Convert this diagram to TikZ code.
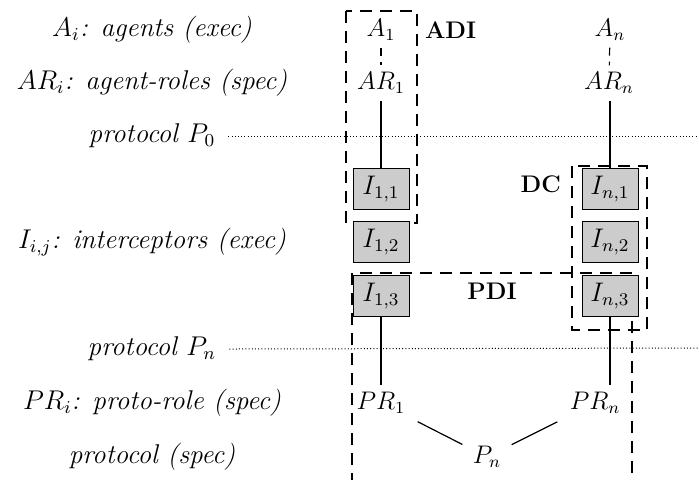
\documentclass[tikz,border=0pt]{standalone}
\usepackage{graphicx}
\newcommand{\lbl}[1]{\scalebox{1.13}{\large\itshape #1}}
\newcommand{\bx}[1]{\scalebox{1.12}{\large #1}}
\newcommand{\mt}[1]{\scalebox{1.06}{\large #1}}
\begin{document}
\begin{tikzpicture}[x=0.5pt,y=-0.5pt,
  every node/.style={font=\large},
  lab/.style={},
  ttl/.style={font=\large\bfseries},
  ibox/.style={draw, line width=0.5pt, fill=gray!40, minimum width=28pt, minimum height=20.5pt, inner sep=0pt},
  grp/.style={draw, line width=0.7pt, dash pattern=on 6pt off 4pt},
  sep/.style={line width=0.5pt, dash pattern=on 0.5pt off 1.1pt},
  conn/.style={line width=0.6pt},
  dconn/.style={line width=0.6pt, dash pattern=on 4pt off 3pt}
]
\useasboundingbox (0,0) rectangle (699,479);
% left labels
\node[lab] (l1) at (152,30) {\lbl{$A_i$: agents (exec)}};
\node[lab] (l2) at (152,83) {\lbl{$AR_i$: agent-roles (spec)}};
\node[lab] (l3) at (152,136) {\lbl{protocol $P_0$}};
\node[lab] (l4) at (152,242) {\lbl{$I_{i,j}$: interceptors (exec)}};
\node[lab] (l5) at (152,349) {\lbl{protocol $P_n$}};
\node[lab] (l6) at (152,403) {\lbl{$PR_i$: proto-role (spec)}};
\node[lab] (l7) at (152,457) {\lbl{protocol (spec)}};
% dotted protocol lines
\coordinate (e3) at (699,136);
\coordinate (e5) at (699,348);
\draw[sep] (l3.east) ++(3pt,0) -- (e3);
\draw[sep] (l5.east) ++(3pt,0) -- (e5);
% groups
\draw[grp] (346,11) rectangle (417,223);
\node[ttl,anchor=west] (adi) at (418,30) {ADI};
\draw[grp] (572,166) rectangle (647,330);
\node[ttl,anchor=east] (dc) at (568,184) {DC};
\draw[grp] (352,485) -- (352,273) -- (632,273) -- (632,485);
\node[ttl] (pdi) at (492,291) {PDI};
% agents
\node (A1) at (381,30) {\mt{$A_1$}};
\node (An) at (610,30) {\mt{$A_n$}};
\node (AR1) at (381,83) {\mt{$AR_1$}};
\node (ARn) at (609,83) {\mt{$AR_n$}};
% interceptors
\node[ibox] (I11) at (381,189) {\bx{$I_{1,1}$}};
\node[ibox] (I12) at (381,242) {\bx{$I_{1,2}$}};
\node[ibox] (I13) at (381,296) {\bx{$I_{1,3}$}};
\node[ibox] (In1) at (610,189) {\bx{$I_{n,1}$}};
\node[ibox] (In2) at (610,242) {\bx{$I_{n,2}$}};
\node[ibox] (In3) at (610,296) {\bx{$I_{n,3}$}};
% proto roles
\node (PR1) at (381,403) {\mt{$PR_1$}};
\node (PRn) at (595,403) {\mt{$PR_n$}};
\node (Pn) at (487,457) {\mt{$P_n$}};
% connectors
\draw[dconn] (A1) -- (AR1);
\draw[dconn] (An) -- (ARn);
\draw[conn] (AR1) -- (I11);
\draw[conn] (In1 |- ARn.south) -- (In1);
\draw[conn] (I13) -- (PR1);
\draw[conn] (In3) -- (In3 |- PRn.north);
\draw[conn, shorten <=3pt, shorten >=2pt] (PR1) -- (Pn);
\draw[conn, shorten <=3pt, shorten >=2pt] (PRn) -- (Pn);
\end{tikzpicture}
\end{document}
